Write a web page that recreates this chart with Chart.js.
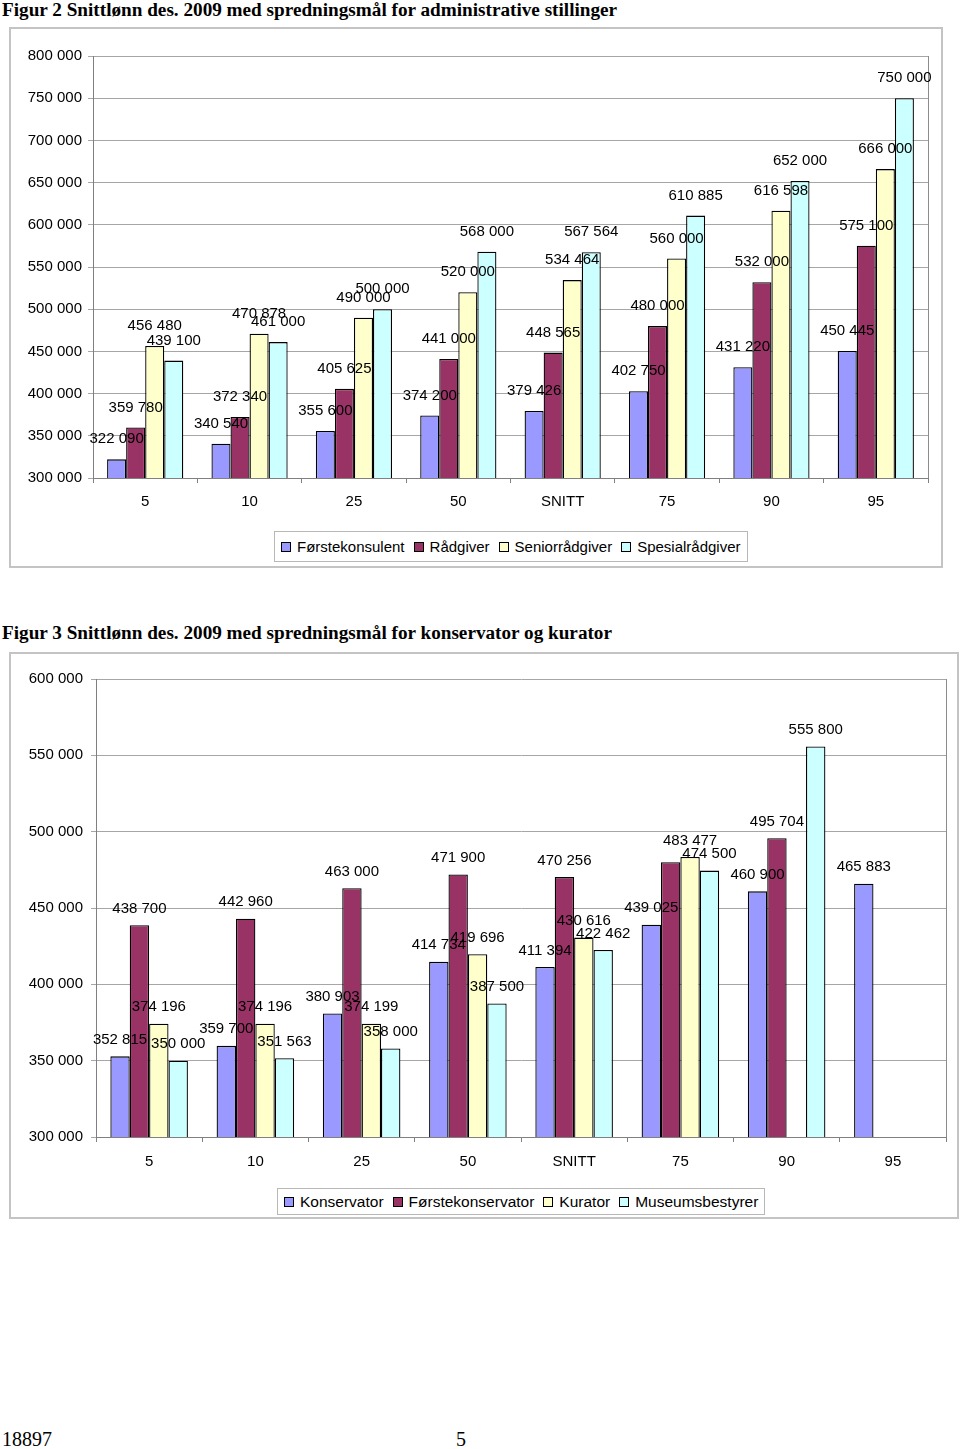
<!DOCTYPE html>
<html lang="no">
<head>
<meta charset="utf-8">
<title>Snittlønn des. 2009</title>
<script src="https://cdn.jsdelivr.net/npm/chart.js@4/dist/chart.umd.min.js"></script>
<style>
    body { margin: 0; background: #fff; width: 960px; height: 1449px; position: relative; overflow: hidden; }
    .tittel { position: absolute; left: 2px; font: bold 19.2px "Liberation Serif", "Times New Roman", serif; color: #000; white-space: nowrap; }
    .ramme { position: absolute; border: 2px solid #c4c4c4; box-sizing: border-box; }
    canvas { position: absolute; }
    .legende { position: absolute; border: 1px solid #b8b8b8; box-sizing: border-box; display: flex; align-items: center;
               font: 15.5px "Liberation Sans", Arial, sans-serif; color: #000; padding: 0 6px; white-space: nowrap; background: #fff; }
    .legende span.boks { display: inline-block; width: 8px; height: 8px; border: 1px solid #000; margin-right: 6px; }
    .legende span.tekst { margin-right: 9px; }
    .legende span.tekst:last-child { margin-right: 0; }
    #legende2 { font-size: 15px; }
    .bunn { position: absolute; font: 20px "Liberation Serif", "Times New Roman", serif; color: #000; }
</style>
</head>
<body>

<div class="tittel" style="top:-1px">Figur 2 Snittlønn des. 2009 med spredningsmål for administrative stillinger</div>
<div class="ramme" style="left:9px; top:27px; width:934px; height:541px"></div>
<canvas id="figur2" width="933" height="540" style="left:9px; top:27px"></canvas>
<div class="legende" id="legende2" style="left:274px; top:531px; height:31px"></div>

<div class="tittel" style="top:622px">Figur 3 Snittlønn des. 2009 med spredningsmål for konservator og kurator</div>
<div class="ramme" style="left:9px; top:652px; width:950px; height:567px"></div>
<canvas id="figur3" width="949" height="566" style="left:9px; top:652px"></canvas>
<div class="legende" id="legende3" style="left:277px; top:1188px; height:27px"></div>

<div class="bunn" style="left:2px; top:1428px">18897</div>
<div class="bunn" style="left:456px; top:1428px">5</div>

<script>
// kategorier (persentiler + snitt)
const kategorier = ['5', '10', '25', '50', 'SNITT', '75', '90', '95'];

// Figur 2 - administrative stillinger
const forstekonsulent = [322090, 340540, 355600, 374200, 379426, 402750, 431220, 450445];
const radgiver = [359780, 372340, 405625, 441000, 448565, 480000, 532000, 575100];
const seniorradgiver = [456480, 470878, 490000, 520000, 534464, 560000, 616598, 666000];
const spesialradgiver = [439100, 461000, 500000, 568000, 567564, 610885, 652000, 750000];
const ticks2 = [300000, 350000, 400000, 450000, 500000, 550000, 600000, 650000, 700000, 750000, 800000];

// Figur 3 - konservator og kurator
const konservator = [352815, 359700, 380903, 414734, 411394, 439025, 460900, 465883];
const forstekonservator = [438700, 442960, 463000, 471900, 470256, 480000, 495704, null];
const kurator = [374196, 374196, 374199, 419696, 430616, 483477, null, null];
const museumsbestyrer = [350000, 351563, 358000, 387500, 422462, 474500, 555800, null];
const ticks3 = [300000, 350000, 400000, 450000, 500000, 550000, 600000];

const farger = ['#9999FF', '#993366', '#FFFFCC', '#CCFFFF'];
const skrift = '"Liberation Sans", Arial, sans-serif';

function mellomrom(v) {
    return String(v).replace(/\B(?=(\d{3})+(?!\d))/g, ' ');
}

// verdietiketter over søylene + høyre kant på plottområdet
const etiketter = {
    id: 'etiketter',
    afterDatasetsDraw(chart, args, opts) {
        const ctx = chart.ctx;
        const a = chart.chartArea;
        ctx.save();
        ctx.strokeStyle = '#8c8c8c';
        ctx.lineWidth = 1;
        ctx.beginPath();
        ctx.moveTo(Math.round(a.right) + 0.5, a.top);
        ctx.lineTo(Math.round(a.right) + 0.5, a.bottom);
        ctx.stroke();

        ctx.font = '15px ' + skrift;
        ctx.fillStyle = '#000';
        ctx.textAlign = 'center';
        ctx.textBaseline = 'middle';
        chart.data.datasets.forEach((ds, i) => {
            chart.getDatasetMeta(i).data.forEach((bar, j) => {
                const v = ds.data[j];
                if (v == null) return;
                if ((opts.skjul || []).includes(i + '-' + j)) return;
                ctx.fillText(mellomrom(v), bar.x, bar.y - opts.avstand);
            });
        });
        ctx.restore();
    }
};

function lagFigur(id, navn, serier, yTicks, oppsett) {
    const datasets = navn.map((n, i) => ({
        label: n,
        data: serier[i],
        backgroundColor: farger[i],
        borderColor: '#000',
        borderWidth: 1.3,
        categoryPercentage: 0.73,
        barPercentage: 1.0
    }));

    return new Chart(document.getElementById(id), {
        type: 'bar',
        data: { labels: kategorier, datasets: datasets },
        plugins: [etiketter],
        options: {
            responsive: false,
            animation: false,
            layout: { padding: oppsett.padding },
            plugins: {
                legend: { display: false },
                tooltip: { enabled: false },
                etiketter: { avstand: oppsett.avstand, skjul: oppsett.skjul || [] }
            },
            scales: {
                x: {
                    grid: { display: true, drawOnChartArea: false, drawTicks: true, tickLength: 5, color: '#808080', offset: true },
                    border: { color: '#808080', width: 1 },
                    ticks: { font: { family: skrift, size: 15 }, color: '#000', padding: oppsett.xPad, autoSkip: false, maxRotation: 0 },
                    afterFit: s => { s.height = 40; }
                },
                y: {
                    min: yTicks[0],
                    max: yTicks[yTicks.length - 1],
                    afterBuildTicks: s => { s.ticks = yTicks.map(v => ({ value: v })); },
                    grid: { color: '#a6a6a6', tickLength: 5, drawTicks: true },
                    border: { color: '#808080', width: 1 },
                    ticks: { font: { family: skrift, size: 15 }, color: '#000', padding: oppsett.yPad, callback: v => mellomrom(v) },
                    afterFit: s => { s.width = oppsett.yBredde; }
                }
            }
        }
    });
}

function lagLegende(id, navn) {
    const el = document.getElementById(id);
    navn.forEach((n, i) => {
        el.innerHTML += `<span class="boks" style="background:${farger[i]}"></span><span class="tekst">${n}</span>`;
    });
}

const navn2 = ['Førstekonsulent', 'Rådgiver', 'Seniorrådgiver', 'Spesialrådgiver'];
const navn3 = ['Konservator', 'Førstekonservator', 'Kurator', 'Museumsbestyrer'];

lagFigur('figur2', navn2, [forstekonsulent, radgiver, seniorradgiver, spesialradgiver], ticks2, {
    padding: { left: 0, top: 29, right: 14, bottom: 49 },
    yBredde: 84, yPad: 6, xPad: 10, avstand: 20
});
lagLegende('legende2', navn2);

lagFigur('figur3', navn3, [konservator, forstekonservator, kurator, museumsbestyrer], ticks3, {
    padding: { left: 0, top: 27, right: 12, bottom: 41 },
    yBredde: 87, yPad: 8, xPad: 11, avstand: 16.5,
    skjul: ['1-5'] // etiketten for Førstekonservator 75 er ikke synlig i originalen
});
lagLegende('legende3', navn3);
</script>
</body>
</html>
